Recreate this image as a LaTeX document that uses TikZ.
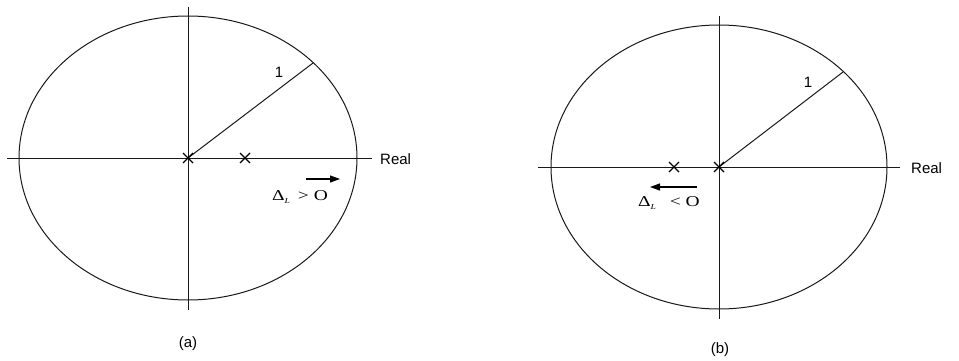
\documentclass[tikz,border=0pt]{standalone}
\usepackage{fontspec}
\setmainfont{Liberation Sans}
\newfontfamily\serifdelta{Liberation Serif}
\usetikzlibrary{arrows.meta,calc}
\newcommand{\dlabel}[1]{\scalebox{1.3}[1]{Δ\raisebox{-0.45ex}{\fontsize{7.5}{8}\selectfont\itshape L}\hspace{0.4em}#1}}
\begin{document}
\begin{tikzpicture}[x=1pt,y=-1pt,
  ln/.style={line width=1pt,black!90},
  xmark/.style={line width=1.3pt},
  lbl/.style={font=\fontsize{15}{17}\selectfont,inner sep=0pt},
  dl/.style={font=\serifdelta\fontsize{15}{17}\selectfont,inner sep=0pt},
  arr/.style={line width=1.1pt,-{Triangle[length=10pt,width=7pt]}}]
\useasboundingbox (0,0) rectangle (959,361);
% (a)
\coordinate (oa) at (188,158);
\draw[ln] (oa) ellipse [x radius=169, y radius=142];
\coordinate (ha1) at (7,158); \coordinate (ha2) at (372,158);
\coordinate (va1) at (188,7); \coordinate (va2) at (188,310);
\draw[ln] (ha1) -- (ha2);
\draw[ln] (va1) -- (va2);
\coordinate (ra) at (313,63);
\draw[ln] (oa) -- (ra);
\node[lbl] (onea) at (279,72) {1};
\node[lbl,anchor=west] (reala) at (380,159) {Real};
\coordinate (pa) at (245,158);
\draw[xmark] ($(oa)+(-5,-5)$) -- ($(oa)+(5,5)$) ($(oa)+(-5,5)$) -- ($(oa)+(5,-5)$);
\draw[xmark] ($(pa)+(-5,-5)$) -- ($(pa)+(5,5)$) ($(pa)+(-5,5)$) -- ($(pa)+(5,-5)$);
\coordinate (aa1) at (306,179); \coordinate (aa2) at (340,179);
\draw[arr] (aa1) -- (aa2);
\node[dl,anchor=west] (da) at (272,197) {\dlabel{> O}};
\node[lbl] (capa) at (188,344) {(a)};
% (b)
\coordinate (ob) at (719,167);
\draw[ln] (ob) ellipse [x radius=168, y radius=142];
\coordinate (hb1) at (538,167); \coordinate (hb2) at (900,167);
\coordinate (vb1) at (719,16); \coordinate (vb2) at (719,319);
\draw[ln] (hb1) -- (hb2);
\draw[ln] (vb1) -- (vb2);
\coordinate (rb) at (843,72);
\draw[ln] (ob) -- (rb);
\node[lbl] (oneb) at (808,82) {1};
\node[lbl,anchor=west] (realb) at (911,168) {Real};
\coordinate (pb) at (674,167);
\draw[xmark] ($(ob)+(-5,-5)$) -- ($(ob)+(5,5)$) ($(ob)+(-5,5)$) -- ($(ob)+(5,-5)$);
\draw[xmark] ($(pb)+(-5,-5)$) -- ($(pb)+(5,5)$) ($(pb)+(-5,5)$) -- ($(pb)+(5,-5)$);
\coordinate (ab1) at (697,187); \coordinate (ab2) at (650,187);
\draw[arr] (ab1) -- (ab2);
\node[dl,anchor=west] (db) at (638,203) {\dlabel{\hspace{0.3em}< O}};
\node[lbl] (capb) at (720,350) {(b)};
\end{tikzpicture}
\end{document}
